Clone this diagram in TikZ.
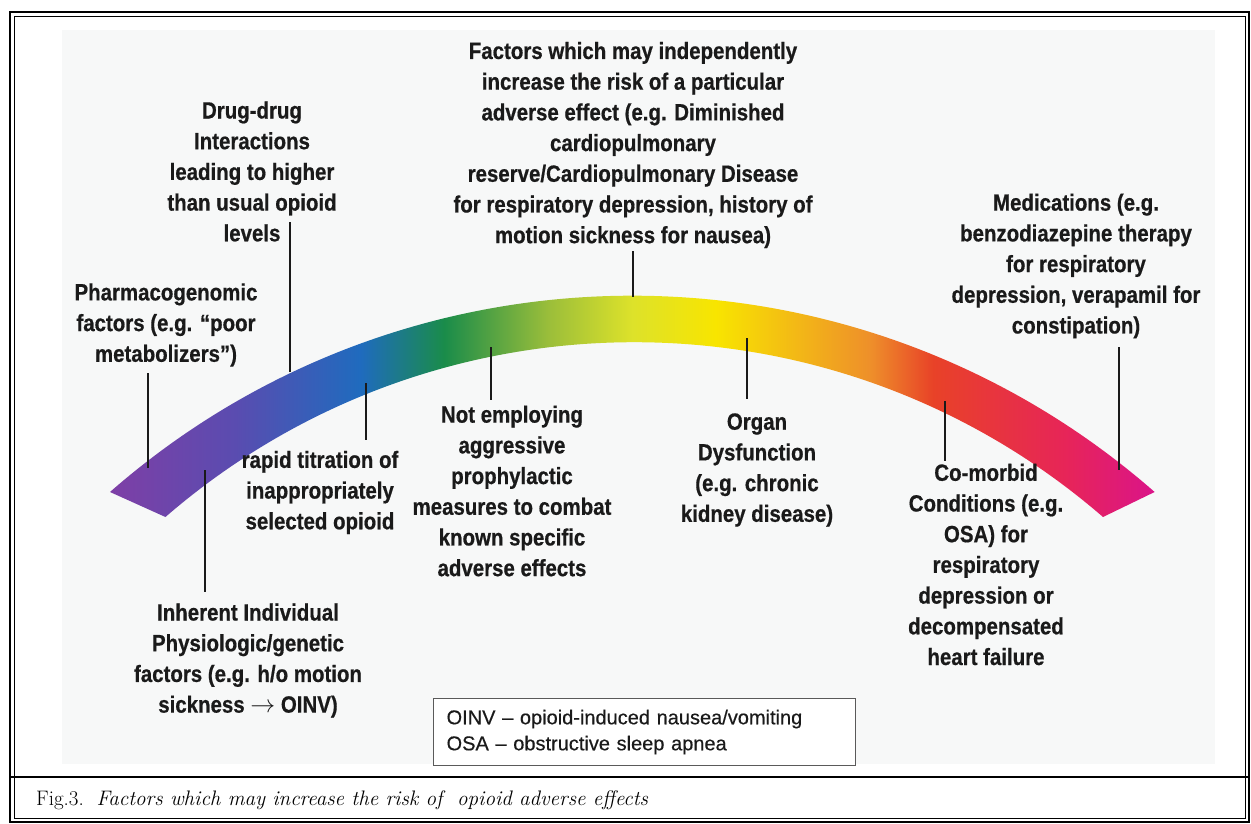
\documentclass[tikz,border=0pt]{standalone}
\usepackage{fontspec}
\newfontfamily\factorfont{Liberation Sans}[FakeStretch=0.87, BoldFeatures={FakeBold=0.6}]
\newfontfamily\legendfont{Liberation Sans}[FakeBold=0.4]
\usepackage{tikz}
\usetikzlibrary{positioning}

\definecolor{inkgray}{HTML}{1A1A1A}
\definecolor{panelgray}{HTML}{F7F8F8}
\definecolor{boxgray}{HTML}{5A5A5A}
\definecolor{arcA}{HTML}{7E3FA6}
\definecolor{arcB}{HTML}{5A4CB0}
\definecolor{arcC}{HTML}{1F6BBE}
\definecolor{arcD}{HTML}{1A8C4A}
\definecolor{arcE}{HTML}{9BBE3A}
\definecolor{arcF}{HTML}{DDE22A}
\definecolor{arcG}{HTML}{F8E500}
\definecolor{arcH}{HTML}{EE8F2A}
\definecolor{arcI}{HTML}{E84228}
\definecolor{arcJ}{HTML}{E72558}
\definecolor{arcK}{HTML}{DA1489}

\pgfdeclarehorizontalshading{arcrainbow}{100bp}{color(0bp)=(arcA); color(25bp)=(arcA);
  color(31bp)=(arcB); color(37bp)=(arcC); color(41bp)=(arcD); color(46bp)=(arcE);
  color(50bp)=(arcF); color(54bp)=(arcG); color(61.4bp)=(arcH); color(64.4bp)=(arcI);
  color(70.7bp)=(arcJ); color(75bp)=(arcK); color(100bp)=(arcK)}

\begin{document}
\begin{tikzpicture}[
    x=1pt, y=-1pt,
    factor/.style={font=\factorfont\bfseries\fontsize{23.5}{30.7}\selectfont, text=inkgray, align=center, inner sep=0pt},
    leader/.style={draw=inkgray, line width=2.6pt},
    legendbox/.style={draw=boxgray, line width=1.2pt, fill=white, anchor=north west, minimum width=422pt, minimum height=67pt,
        text width=396pt, inner xsep=13pt, align=left, font=\legendfont\fontsize{20}{26}\selectfont, text=inkgray}
]
\useasboundingbox (0,0) rectangle (1251,824);

% Frame and panel
\fill[panelgray] (62,30) rectangle (1215,764);
\draw[line width=2pt] (10,12) rectangle (1249,822);
\draw[line width=0.9pt] (14,16) rectangle (1245,818);
\draw[line width=2.2pt] (10,777) -- (1249,777);

% Rainbow arc
\shade[shading=arcrainbow] (110,492) arc[start angle=-131.2, end angle=-48.8, radius=793]
    -- (1103,517) arc[start angle=-49.1, end angle=-130.9, radius=716] -- cycle;

% Factors above the arc
\node[factor] (indep) at (633,145) {Factors which may independently\\increase the risk of a particular\\adverse effect (e.g. Diminished\\cardiopulmonary\\reserve/Cardiopulmonary Disease\\for respiratory depression, history of\\motion sickness for nausea)};
\node[factor] (drugs) at (252,171.5) {Drug-drug\\Interactions\\leading to higher\\than usual opioid\\levels};
\node[factor] (pharma) at (166,325) {Pharmacogenomic\\factors (e.g. “poor\\metabolizers”)};
\node[factor] (meds) at (1076,266) {Medications (e.g.\\benzodiazepine therapy\\for respiratory\\depression, verapamil for\\constipation)};

% Factors below the arc
\node[factor] (inherent) at (248,660.5) {Inherent Individual\\Physiologic/genetic\\factors (e.g. h/o motion\\sickness $\rightarrow$ OINV)};
\node[factor] (titration) at (320,492.5) {rapid titration of\\inappropriately\\selected opioid};
\node[factor] (prophyl) at (512,491) {Not employing\\aggressive\\prophylactic\\measures to combat\\known specific\\adverse effects};
\node[factor] (organ) at (757,470) {Organ\\Dysfunction\\(e.g. chronic\\kidney disease)};
\node[factor] (comorbid) at (986,564.5) {Co-morbid\\Conditions (e.g.\\OSA) for\\respiratory\\depression or\\decompensated\\heart failure};

% Leader lines
\coordinate (indepA) at (633,251);    \coordinate (indepB) at (633,297);
\coordinate (drugsA) at (290,222);    \coordinate (drugsB) at (290,372);
\coordinate (pharmaA) at (148,373);   \coordinate (pharmaB) at (148,468);
\coordinate (medsA) at (1119,347);    \coordinate (medsB) at (1119,470);
\coordinate (inherentA) at (205,470); \coordinate (inherentB) at (205,592);
\coordinate (titrationA) at (366,383); \coordinate (titrationB) at (366,440);
\coordinate (prophylA) at (491,347);  \coordinate (prophylB) at (491,400);
\coordinate (organA) at (747,338);    \coordinate (organB) at (747,399);
\coordinate (comorbidA) at (945,401); \coordinate (comorbidB) at (945,461);
\foreach \f in {indep,drugs,pharma,meds,inherent,titration,prophyl,organ,comorbid}
    \draw[leader] (\f A) -- (\f B);

% Abbreviations
\node[legendbox] (legend) at (433,698) {OINV – opioid-induced nausea/vomiting\\OSA – obstructive sleep apnea};

% Caption
\node[anchor=base west, inner sep=0pt, font=\fontsize{21}{25}\selectfont] (caption) at (36,805)
    {Fig.3.\ \ \textit{Factors which may increase the risk of\ \ opioid adverse effects}};

\end{tikzpicture}
\end{document}
